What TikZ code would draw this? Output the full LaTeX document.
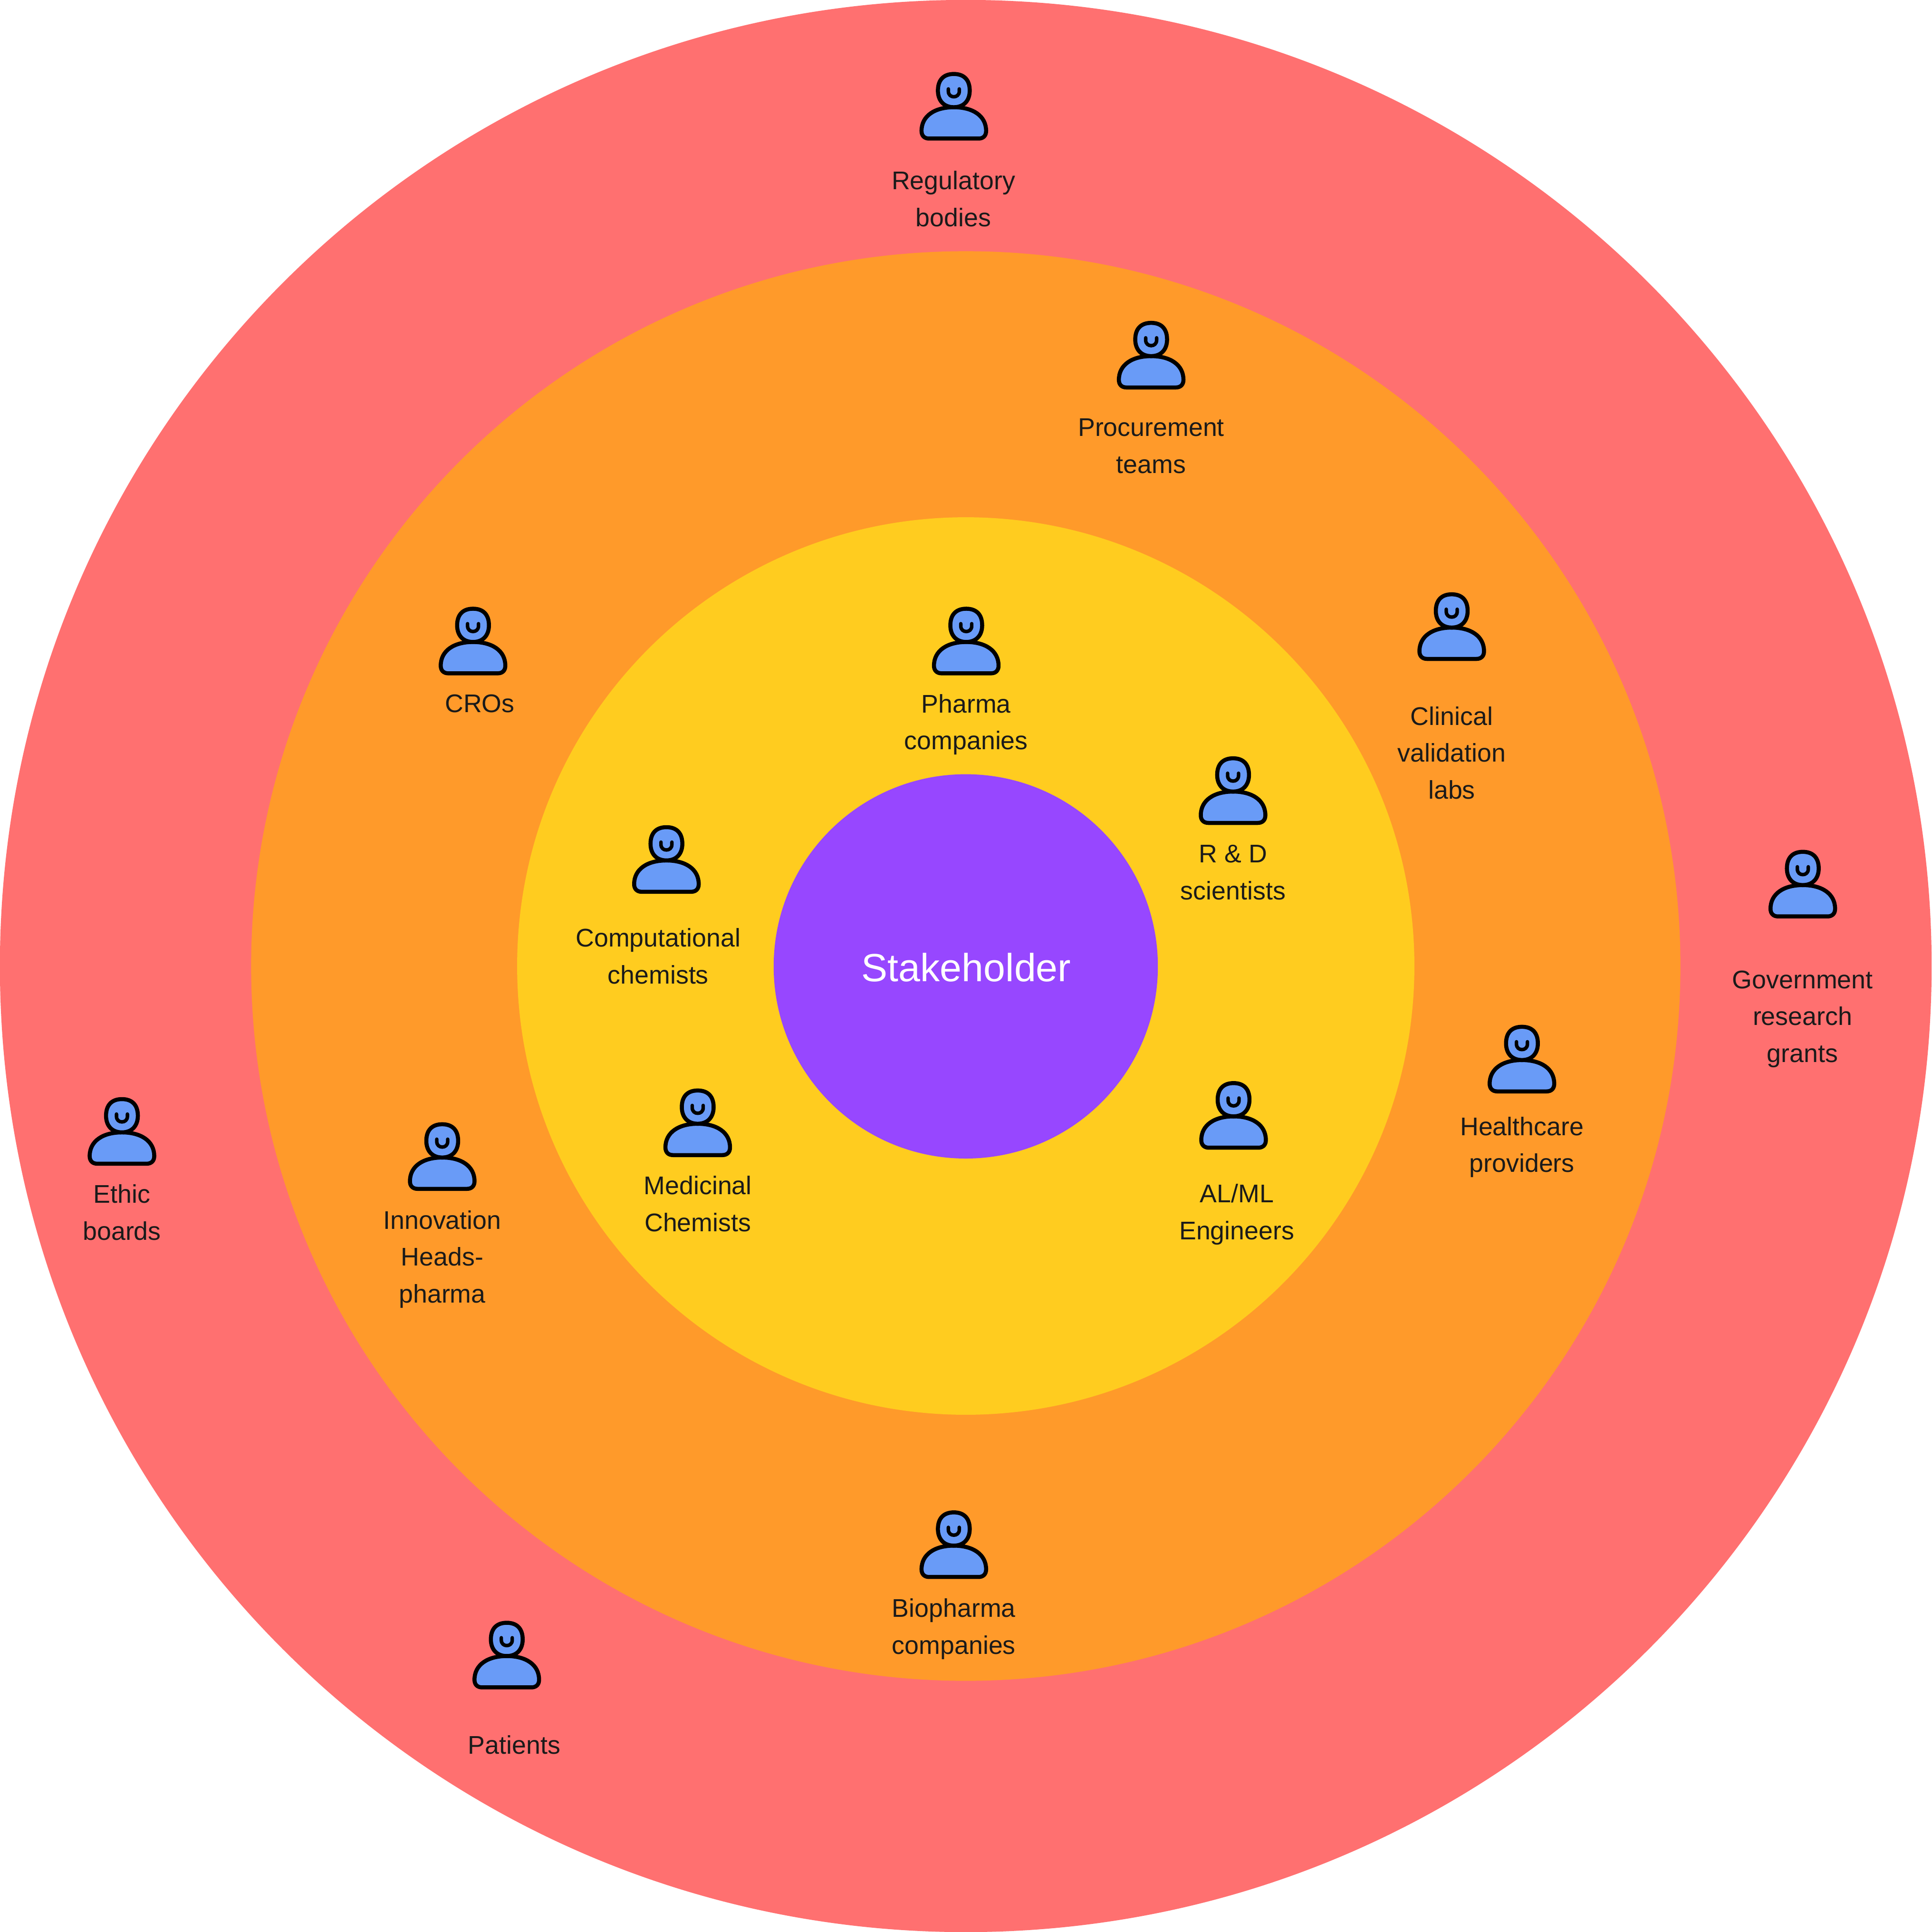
\documentclass[tikz,border=0pt]{standalone}
\usepackage{fontspec}
\setmainfont{Liberation Sans}
\definecolor{ringred}{HTML}{FF7070}
\definecolor{ringorange}{HTML}{FF9A2A}
\definecolor{ringyellow}{HTML}{FFCC1F}
\definecolor{corepurple}{HTML}{9747FF}
\definecolor{personblue}{HTML}{699BF7}
\definecolor{labelink}{HTML}{1A1A1A}
\tikzset{
  ring/.style={circle,inner sep=0pt,outer sep=0pt,minimum size=#1*0.05184cm},
  lbl/.style={align=center,text=labelink,inner sep=0pt,font=\fontsize{15.3pt}{22.1pt}\selectfont},
  pics/person/.style={code={
    \begin{scope}[x=0.01cm,y=-0.01cm,line width=2.42pt,draw=black,line join=round,line cap=round]
      \draw[fill=personblue] (-52,-4) .. controls (-62,-4) and (-68,-10) .. (-68,-20)
        .. controls (-68,-52) and (-40,-70) .. (0,-70)
        .. controls (40,-70) and (68,-52) .. (68,-20)
        .. controls (68,-10) and (62,-4) .. (52,-4) -- cycle;
      \draw[fill=personblue] (0,-70) .. controls (-22,-70) and (-33.5,-85) .. (-33.5,-105)
        .. controls (-33.5,-127) and (-22,-140) .. (0,-140)
        .. controls (22,-140) and (33.5,-127) .. (33.5,-105)
        .. controls (33.5,-85) and (22,-70) .. (0,-70) -- cycle;
      \draw[line width=2.1pt] (-11.5,-108.5) -- (-11.5,-103.5) .. controls (-11.5,-96) and (-6,-92) .. (0,-92)
        .. controls (6,-92) and (11.5,-96) .. (11.5,-103.5) -- (11.5,-108.5);
    \end{scope}
  }}
}
\begin{document}
\begin{tikzpicture}[x=0.02592cm,y=-0.02592cm]
\useasboundingbox (0,0) rectangle (1568,1568);
\fill[white] (0,0) rectangle (1568,1568);
\node[ring=784.3,fill=ringred] (outer) at (784,784) {};
\node[ring=580.3,fill=ringorange] (middle) at (784,784) {};
\node[ring=364.3,fill=ringyellow] (inner) at (784,784) {};
\node[ring=156,fill=corepurple] (core) at (784,784.3) {};
\node[text=white,inner sep=0pt,font=\fontsize{23.5pt}{28pt}\selectfont] (stake) at (784.4,785) {Stakeholder};
\foreach \px/\py in {774.3/114,934.5/316,384/548,784.4/548,1178.5/536.3,1001/669.4,541/725.3,1463.5/745.3,1235.5/887.3,1001.4/933,566.4/939,99/946,359/966.4,774.3/1281.4,411.4/1371}
  \pic at (\px,\py) {person};
\node[lbl] (l1) at (774,161.5) {Regulatory\\bodies};
\node[lbl] (l2) at (934.5,362) {Procurement\\teams};
\node[lbl] (l3) at (389.5,571) {CROs};
\node[lbl] (l4) at (784.3,588) {Pharma\\companies};
\node[lbl] (l5) at (1178.5,611) {Clinical\\validation\\labs};
\node[lbl] (l6) at (1001,708) {R \& D\\scientists};
\node[lbl] (l7) at (534.3,776) {Computational\\chemists};
\node[lbl] (l8) at (1463.3,827) {Government\\research\\grants};
\node[lbl] (l9) at (1235.5,931) {Healthcare\\providers};
\node[lbl] (l10) at (1004,985.5) {AL/ML\\Engineers};
\node[lbl] (l11) at (566.5,977) {Medicinal\\Chemists};
\node[lbl] (l12) at (99,984) {Ethic\\boards};
\node[lbl] (l13) at (359,1022) {Innovation\\Heads-\\pharma};
\node[lbl] (l14) at (774.3,1322) {Biopharma\\companies};
\node[lbl] (l15) at (417.5,1416) {Patients};
\end{tikzpicture}
\end{document}
